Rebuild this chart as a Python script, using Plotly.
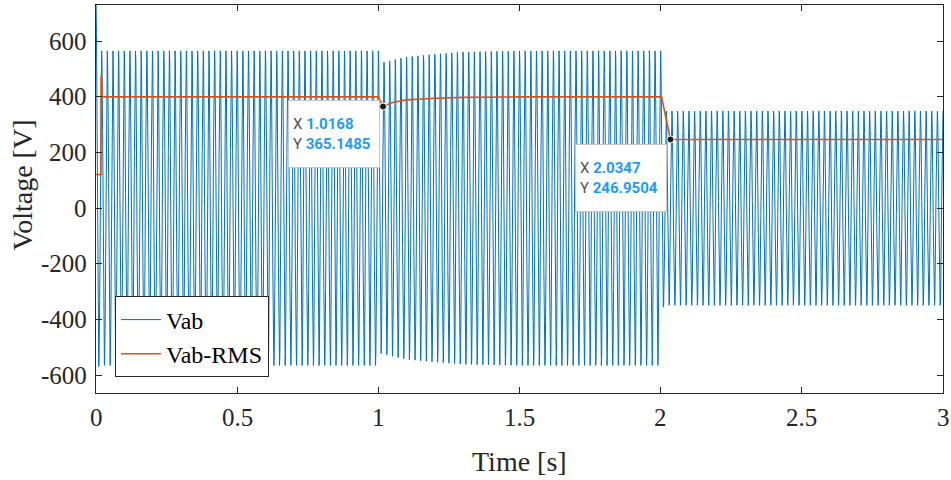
import numpy as np
import plotly.graph_objects as go

# --- data ---
freq_hz = 50.0
t_end = 3.0
# amplitude envelope of Vab (peak values)
env_t = [0.0, 0.01, 0.02, 1.0, 1.01, 1.05, 1.1, 1.2, 1.3, 1.5, 2.0, 2.01, 3.0]
env_a = [760, 565, 565, 565, 522, 532, 543, 553, 561, 565, 565, 349, 349]
# RMS trace
rms_t = [0.0, 0.0175, 0.018, 0.0195, 0.022, 1.0, 1.0168, 1.05, 1.1, 1.2, 1.3, 1.5,
         2.003, 2.025, 2.0347, 3.0]
rms_v = [121, 121, 474, 474, 400, 400, 365.1485, 380, 389, 395, 398, 400,
         400, 290, 246.9504, 246.9504]
# data tips
tip_x = [1.0168, 2.0347]
tip_y = [365.1485, 246.9504]
x_ticks = [0, 0.5, 1, 1.5, 2, 2.5, 3]
x_tick_text = ["0", "0.5", "1", "1.5", "2", "2.5", "3"]
y_ticks = [-600, -400, -200, 0, 200, 400, 600]
y_tick_text = ["-600", "-400", "-200", "0", "200", "400", "600"]
x_title = "Time [s]"
y_title = "Voltage [V]"

t = np.linspace(0, t_end, 60001)
amp = np.interp(t, env_t, env_a)
vab = amp * np.cos(2 * np.pi * freq_hz * t)

BLUE = "#0072BD"
ORANGE = "#D95319"
AX = "#262626"
SERIF = "Liberation Serif"

fig = go.Figure()
fig.add_trace(go.Scatter(x=t, y=vab, mode="lines", name="Vab",
                         line=dict(color=BLUE, width=1)))
fig.add_trace(go.Scatter(x=rms_t, y=rms_v, mode="lines", name="Vab-RMS",
                         line=dict(color=ORANGE, width=1.6)))
fig.add_trace(go.Scatter(x=tip_x, y=tip_y, mode="markers", showlegend=False,
                         marker=dict(color="#1a1a1a", size=7,
                                     line=dict(color="white", width=1))))

# data-tip boxes
shifts = [(-3, 7), (-3, -5)]
for (xv, yv), (xs, ys) in zip(zip(tip_x, tip_y), shifts):
    txt = (f"<span style='color:#505050'>X</span> <b><span style='color:#1E9BFF'>{xv:.4f}</span></b><br>"
           f"<span style='color:#505050'>Y</span> <b><span style='color:#1E9BFF'>{yv:.4f}</span></b>")
    fig.add_annotation(x=xv, y=yv, xref="x", yref="y", text=txt, showarrow=False,
                       xanchor="right", yanchor="top", xshift=xs, yshift=ys,
                       align="left", bgcolor="white", bordercolor="#c8c8c8",
                       borderwidth=1, borderpad=4, width=82, height=58,
                       font=dict(family="Roboto", size=15, color="#505050"))

# tick labels (serif) placed at the axis tick positions
for xv, lab in zip(x_ticks, x_tick_text):
    fig.add_annotation(x=xv, y=0, xref="x", yref="paper", text=lab, showarrow=False,
                       xanchor="center", yanchor="top", yshift=-9,
                       font=dict(family=SERIF, size=25, color=AX))
for yv, lab in zip(y_ticks, y_tick_text):
    fig.add_annotation(x=0, y=yv, xref="paper", yref="y", text=lab, showarrow=False,
                       xanchor="right", yanchor="middle", xshift=-7,
                       font=dict(family=SERIF, size=25, color=AX))
# axis titles
fig.add_annotation(x=0.5, y=0, xref="paper", yref="paper", text=x_title, showarrow=False,
                   xanchor="center", yanchor="middle", yshift=-68,
                   font=dict(family=SERIF, size=28, color=AX))
fig.add_annotation(x=0, y=0.535, xref="paper", yref="paper", text=y_title, showarrow=False,
                   xanchor="center", yanchor="middle", xshift=-74, textangle=-90,
                   font=dict(family=SERIF, size=28, color=AX))

fig.update_layout(
    width=951, height=480,
    margin=dict(l=96, r=8, t=5, b=87),
    paper_bgcolor="white", plot_bgcolor="white",
    showlegend=True,
    legend=dict(x=0.0224, y=0.04, xanchor="left", yanchor="bottom",
                bgcolor="white", bordercolor=AX, borderwidth=1,
                font=dict(family=SERIF, size=24, color="black"),
                tracegroupgap=0, itemwidth=40),
    font=dict(family=SERIF, color=AX, size=25),
)
fig.update_xaxes(range=[0, 3], tickmode="array", tickvals=x_ticks, showticklabels=False,
                 ticks="inside", ticklen=6, tickcolor=AX, showline=True,
                 linecolor=AX, linewidth=1, mirror="ticks", showgrid=False,
                 zeroline=False)
fig.update_yaxes(range=[-664, 730], tickmode="array", tickvals=y_ticks, showticklabels=False,
                 ticks="inside", ticklen=6, tickcolor=AX, showline=True,
                 linecolor=AX, linewidth=1, mirror="ticks", showgrid=False,
                 zeroline=False)

fig.write_html("out.html")
